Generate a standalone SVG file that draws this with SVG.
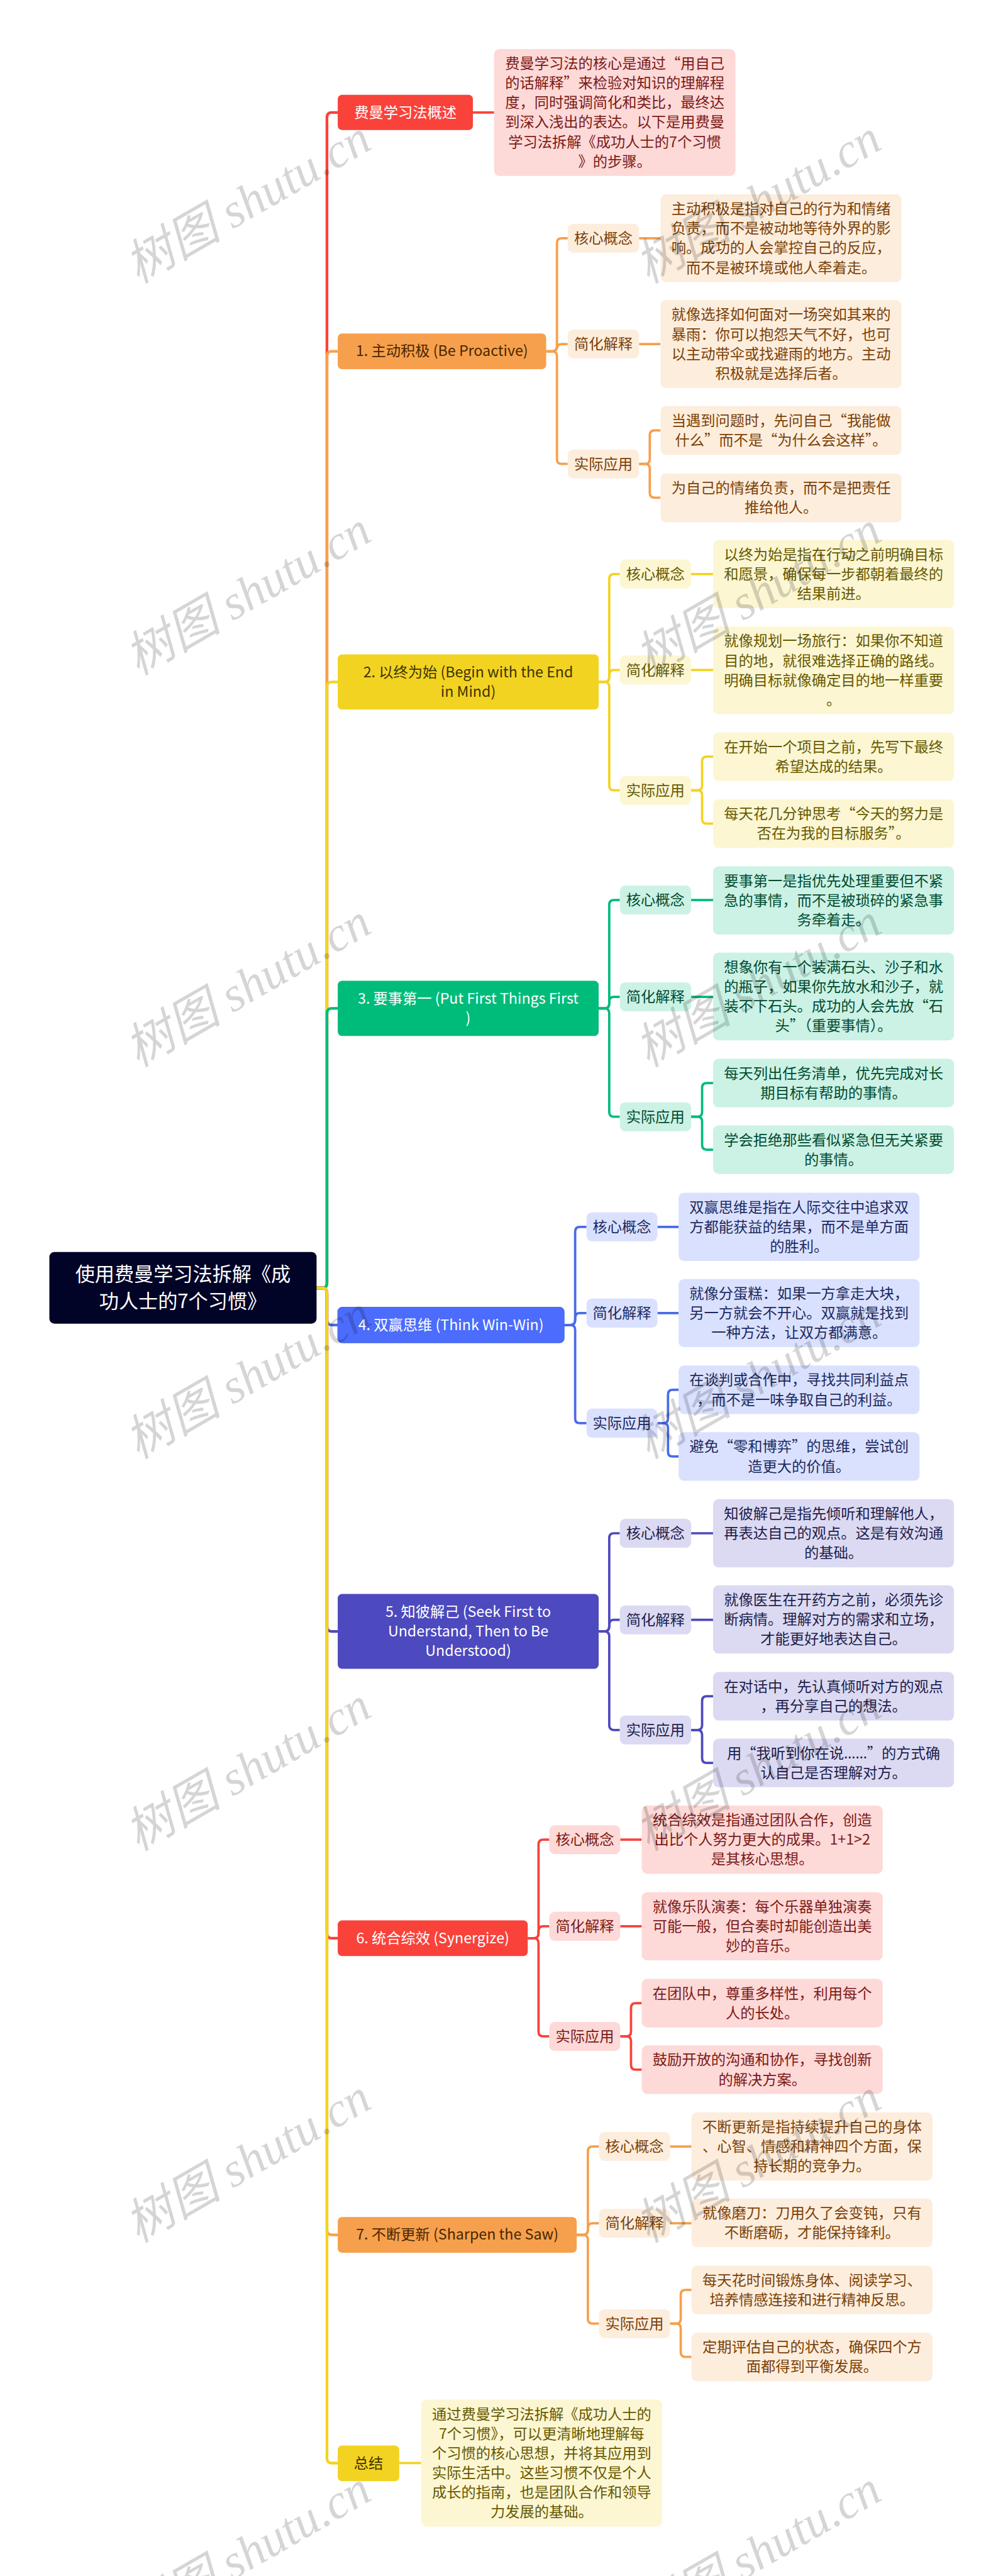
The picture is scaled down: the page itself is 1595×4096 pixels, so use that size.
<svg xmlns="http://www.w3.org/2000/svg" width="1595" height="4096" viewBox="0 0 1595 4096">
<style>
text{font-family:"Noto Sans CJK SC","Noto Sans",sans-serif;font-size:37.33px;text-anchor:middle}
.c{fill:none;stroke-width:6}
.t{stroke-width:7}
.cr{stroke:#F9423A}.co{stroke:#F6A04D}.cy{stroke:#F3D321}.cg{stroke:#00BC7B}.cb{stroke:#4A6AE8}.ci{stroke:#4D49BE}
.nr{fill:#F9423A}.no{fill:#F6A04D}.ny{fill:#F3D321}.ng{fill:#00BC7B}.nb{fill:#4B6CFC;stroke:#4464DF;stroke-width:1.5}.ni{fill:#4D49BE}
.lr{fill:#FDD9D8}.lo{fill:#FDEDDD}.ly{fill:#FCF6D3}.lg{fill:#CCF2E5}.lb{fill:#DAE1FF}.li{fill:#DBDAF2}
.tr{fill:#7C1A16}.to{fill:#7B4106}.ty{fill:#665900}.tg{fill:#004B31}.tb{fill:#1C2A60}.ti{fill:#1F1D4C}
.w{fill:#FFFFFF}.do{fill:#4A2700}.dy{fill:#3D3500}
.wm{font-family:"Liberation Serif","Noto Sans CJK SC",serif;font-style:italic;font-size:124px;fill:#000000;fill-opacity:.165;text-anchor:start}
.root{font-size:50px;fill:#FFFFFF}
.dots{font-family:"Noto Sans",sans-serif}
</style>
<g transform="scale(0.62305)">
<g id="connectors">
<path class="c t cr" d="M807 3287H822Q834.5 3287 834.5 3275V299Q834.5 287 847 287H862"/>
<path class="c t co" d="M807 3287H822Q834.5 3287 834.5 3275V909Q834.5 896.5 847 896.5H862"/>
<path class="c t cy" d="M807 3287H822Q834.5 3287 834.5 3275V1753Q834.5 1740.5 847 1740.5H862"/>
<path class="c t cg" d="M807 3287H822Q834.5 3287 834.5 3275V2586Q834.5 2573.5 847 2573.5H862"/>
<path class="c t cb" d="M807 3287H822Q834.5 3287 834.5 3299V3369Q834.5 3381.5 847 3381.5H862"/>
<path class="c t ci" d="M807 3287H822Q834.5 3287 834.5 3299V4151Q834.5 4163.5 847 4163.5H862"/>
<path class="c t cr" d="M807 3287H822Q834.5 3287 834.5 3299V4934Q834.5 4946.5 847 4946.5H862"/>
<path class="c t co" d="M807 3287H822Q834.5 3287 834.5 3299V5691Q834.5 5703.5 847 5703.5H862"/>
<path class="c t cy" d="M807 3287H822Q834.5 3287 834.5 3299V6274Q834.5 6286 847 6286H862"/>
<path class="c cr" d="M1207 287H1261"/>
<path class="c co" d="M1394 896.5H1409Q1421.5 896.5 1421.5 884V620Q1421.5 608 1434 608H1449"/>
<path class="c co" d="M1394 896.5H1409Q1421.5 896.5 1421.5 884V890Q1421.5 878 1434 878H1449"/>
<path class="c co" d="M1394 896.5H1409Q1421.5 896.5 1421.5 909V1172Q1421.5 1184 1434 1184H1449"/>
<path class="c co" d="M1631 608H1686M1631 878H1686"/>
<path class="c co" d="M1631 1184H1646Q1658.5 1184 1658.5 1172V1110.5Q1658.5 1098.5 1671 1098.5H1686"/>
<path class="c co" d="M1631 1184H1646Q1658.5 1184 1658.5 1196V1258Q1658.5 1270 1671 1270H1686"/>
<path class="c cy" d="M1528 1740.5H1543Q1555 1740.5 1555 1728V1477Q1555 1465 1567 1465H1582"/>
<path class="c cy" d="M1528 1740.5H1543Q1555 1740.5 1555 1728V1722Q1555 1710 1567 1710H1582"/>
<path class="c cy" d="M1528 1740.5H1543Q1555 1740.5 1555 1753V2005Q1555 2017 1567 2017H1582"/>
<path class="c cy" d="M1764 1465H1820M1764 1710H1820"/>
<path class="c cy" d="M1764 2017H1780Q1792 2017 1792 2005V1943Q1792 1931 1804 1931H1820"/>
<path class="c cy" d="M1764 2017H1780Q1792 2017 1792 2029V2090Q1792 2102 1804 2102H1820"/>
<path class="c cg" d="M1528 2573.5H1543Q1555 2573.5 1555 2561V2309Q1555 2297 1567 2297H1582"/>
<path class="c cg" d="M1528 2573.5H1543Q1555 2573.5 1555 2561V2556Q1555 2544 1567 2544H1582"/>
<path class="c cg" d="M1528 2573.5H1543Q1555 2573.5 1555 2586V2838Q1555 2850 1567 2850H1582"/>
<path class="c cg" d="M1764 2297H1820M1764 2544H1820"/>
<path class="c cg" d="M1764 2850H1780Q1792 2850 1792 2838V2776Q1792 2764 1804 2764H1820"/>
<path class="c cg" d="M1764 2850H1780Q1792 2850 1792 2862V2922Q1792 2934 1804 2934H1820"/>
<path class="c cb" d="M1440 3381.5H1456Q1468 3381.5 1468 3369V3143Q1468 3131 1480 3131H1497"/>
<path class="c cb" d="M1440 3381.5H1456Q1468 3381.5 1468 3369V3363Q1468 3351 1480 3351H1497"/>
<path class="c cb" d="M1440 3381.5H1456Q1468 3381.5 1468 3394V3620Q1468 3632 1480 3632H1497"/>
<path class="c cb" d="M1678 3131H1732M1678 3351H1732"/>
<path class="c cb" d="M1678 3632H1693Q1705 3632 1705 3620V3559Q1705 3547 1717 3547H1732"/>
<path class="c cb" d="M1678 3632H1693Q1705 3632 1705 3644V3705Q1705 3717 1717 3717H1732"/>
<path class="c ci" d="M1528 4163.5H1543Q1555 4163.5 1555 4151V3925Q1555 3913 1567 3913H1582"/>
<path class="c ci" d="M1528 4163.5H1543Q1555 4163.5 1555 4151V4146Q1555 4134 1567 4134H1582"/>
<path class="c ci" d="M1528 4163.5H1543Q1555 4163.5 1555 4176V4403Q1555 4415 1567 4415H1582"/>
<path class="c ci" d="M1764 3913H1820M1764 4134H1820"/>
<path class="c ci" d="M1764 4415H1780Q1792 4415 1792 4403V4341Q1792 4329 1804 4329H1820"/>
<path class="c ci" d="M1764 4415H1780Q1792 4415 1792 4427V4487Q1792 4499 1804 4499H1820"/>
<path class="c cr" d="M1347 4946.5H1362Q1374.5 4946.5 1374.5 4934V4707Q1374.5 4695 1387 4695H1402"/>
<path class="c cr" d="M1347 4946.5H1362Q1374.5 4946.5 1374.5 4934V4928Q1374.5 4916 1387 4916H1402"/>
<path class="c cr" d="M1347 4946.5H1362Q1374.5 4946.5 1374.5 4959V5185Q1374.5 5197 1387 5197H1402"/>
<path class="c cr" d="M1583 4695H1638M1583 4916H1638"/>
<path class="c cr" d="M1583 5197H1598Q1610.5 5197 1610.5 5185V5124Q1610.5 5112 1623 5112H1638"/>
<path class="c cr" d="M1583 5197H1598Q1610.5 5197 1610.5 5209V5270Q1610.5 5282 1623 5282H1638"/>
<path class="c co" d="M1472 5703.5H1488Q1500.5 5703.5 1500.5 5691V5490Q1500.5 5478 1513 5478H1529"/>
<path class="c co" d="M1472 5703.5H1488Q1500.5 5703.5 1500.5 5691V5686Q1500.5 5674 1513 5674H1529"/>
<path class="c co" d="M1472 5703.5H1488Q1500.5 5703.5 1500.5 5716V5918Q1500.5 5930 1513 5930H1529"/>
<path class="c co" d="M1710 5478H1765M1710 5674H1765"/>
<path class="c co" d="M1710 5930H1725Q1737.5 5930 1737.5 5918V5856Q1737.5 5844 1750 5844H1765"/>
<path class="c co" d="M1710 5930H1725Q1737.5 5930 1737.5 5942V6003Q1737.5 6015 1750 6015H1765"/>
<path class="c cy" d="M1019 6286H1075"/>
</g>
<g id="root"><rect x="126" y="3195" width="682" height="183" rx="13" fill="#010327"/><text class="root"><tspan x="467" y="3270">使用费曼学习法拆解《成</tspan><tspan x="467" y="3338">功人士的7个习惯》</tspan></text></g>

<g id="n0"><rect class="nr" x="862" y="242" width="345" height="90" rx="11"/><text class="w" x="1034.5" y="300">费曼学习法概述</text></g>
<g id="n0-a"><rect class="lr" x="1261" y="125" width="616" height="324" rx="14"/><text class="tr"><tspan x="1569" y="175">费曼学习法的核心是通过“用自己</tspan><tspan x="1569" y="225">的话解释”来检验对知识的理解程</tspan><tspan x="1569" y="275">度，同时强调简化和类比，最终达</tspan><tspan x="1569" y="325">到深入浅出的表达。以下是用费曼</tspan><tspan x="1569" y="375">学习法拆解《成功人士的7个习惯</tspan><tspan x="1569" y="425">》的步骤。</tspan></text></g>

<g id="n1"><rect class="no" x="862" y="851" width="532" height="91" rx="11"/><text class="do" x="1128" y="909">1. 主动积极 (Be Proactive)</text></g>
<g id="n1-l1"><rect class="lo" x="1449" y="571" width="182" height="74" rx="14"/><text class="to" x="1540" y="621">核心概念</text></g>
<g id="n1-l2"><rect class="lo" x="1449" y="841" width="182" height="74" rx="14"/><text class="to" x="1540" y="891">简化解释</text></g>
<g id="n1-l3"><rect class="lo" x="1449" y="1147" width="182" height="74" rx="14"/><text class="to" x="1540" y="1197">实际应用</text></g>
<g id="n1-b1"><rect class="lo" x="1686" y="496" width="615" height="224" rx="14"/><text class="to"><tspan x="1993.5" y="546">主动积极是指对自己的行为和情绪</tspan><tspan x="1993.5" y="596">负责，而不是被动地等待外界的影</tspan><tspan x="1993.5" y="646">响。成功的人会掌控自己的反应，</tspan><tspan x="1993.5" y="696">而不是被环境或他人牵着走。</tspan></text></g>
<g id="n1-b2"><rect class="lo" x="1686" y="766" width="615" height="224" rx="14"/><text class="to"><tspan x="1993.5" y="816">就像选择如何面对一场突如其来的</tspan><tspan x="1993.5" y="866">暴雨：你可以抱怨天气不好，也可</tspan><tspan x="1993.5" y="916">以主动带伞或找避雨的地方。主动</tspan><tspan x="1993.5" y="966">积极就是选择后者。</tspan></text></g>
<g id="n1-b3"><rect class="lo" x="1686" y="1036" width="615" height="125" rx="14"/><text class="to"><tspan x="1993.5" y="1086">当遇到问题时，先问自己“我能做</tspan><tspan x="1993.5" y="1136">什么”而不是“为什么会这样”。</tspan></text></g>
<g id="n1-b4"><rect class="lo" x="1686" y="1208" width="615" height="125" rx="14"/><text class="to"><tspan x="1993.5" y="1258">为自己的情绪负责，而不是把责任</tspan><tspan x="1993.5" y="1308">推给他人。</tspan></text></g>

<g id="n2"><rect class="ny" x="862" y="1670" width="666" height="141" rx="11"/><text class="dy"><tspan x="1195" y="1728">2. 以终为始 (Begin with the End</tspan><tspan x="1195" y="1778">in Mind)</tspan></text></g>
<g id="n2-l1"><rect class="ly" x="1582" y="1428" width="182" height="74" rx="14"/><text class="ty" x="1673" y="1478">核心概念</text></g>
<g id="n2-l2"><rect class="ly" x="1582" y="1673" width="182" height="74" rx="14"/><text class="ty" x="1673" y="1723">简化解释</text></g>
<g id="n2-l3"><rect class="ly" x="1582" y="1980" width="182" height="74" rx="14"/><text class="ty" x="1673" y="2030">实际应用</text></g>
<g id="n2-b1"><rect class="ly" x="1820" y="1378" width="615" height="174" rx="14"/><text class="ty"><tspan x="2127.5" y="1428">以终为始是指在行动之前明确目标</tspan><tspan x="2127.5" y="1478">和愿景，确保每一步都朝着最终的</tspan><tspan x="2127.5" y="1528">结果前进。</tspan></text></g>
<g id="n2-b2"><rect class="ly" x="1820" y="1599" width="615" height="224" rx="14"/><text class="ty"><tspan x="2127.5" y="1649">就像规划一场旅行：如果你不知道</tspan><tspan x="2127.5" y="1699">目的地，就很难选择正确的路线。</tspan><tspan x="2127.5" y="1749">明确目标就像确定目的地一样重要</tspan><tspan x="2127.5" y="1799">。</tspan></text></g>
<g id="n2-b3"><rect class="ly" x="1820" y="1869" width="615" height="124" rx="14"/><text class="ty"><tspan x="2127.5" y="1919">在开始一个项目之前，先写下最终</tspan><tspan x="2127.5" y="1969">希望达成的结果。</tspan></text></g>
<g id="n2-b4"><rect class="ly" x="1820" y="2040" width="615" height="124" rx="14"/><text class="ty"><tspan x="2127.5" y="2090">每天花几分钟思考“今天的努力是</tspan><tspan x="2127.5" y="2140">否在为我的目标服务”。</tspan></text></g>

<g id="n3"><rect class="ng" x="862" y="2503" width="666" height="141" rx="11"/><text class="w"><tspan x="1195" y="2561">3. 要事第一 (Put First Things First</tspan><tspan x="1195" y="2611">)</tspan></text></g>
<g id="n3-l1"><rect class="lg" x="1582" y="2260" width="182" height="74" rx="14"/><text class="tg" x="1673" y="2310">核心概念</text></g>
<g id="n3-l2"><rect class="lg" x="1582" y="2507" width="182" height="74" rx="14"/><text class="tg" x="1673" y="2557">简化解释</text></g>
<g id="n3-l3"><rect class="lg" x="1582" y="2813" width="182" height="74" rx="14"/><text class="tg" x="1673" y="2863">实际应用</text></g>
<g id="n3-b1"><rect class="lg" x="1820" y="2211" width="615" height="174" rx="14"/><text class="tg"><tspan x="2127.5" y="2261">要事第一是指优先处理重要但不紧</tspan><tspan x="2127.5" y="2311">急的事情，而不是被琐碎的紧急事</tspan><tspan x="2127.5" y="2361">务牵着走。</tspan></text></g>
<g id="n3-b2"><rect class="lg" x="1820" y="2431" width="615" height="224" rx="14"/><text class="tg"><tspan x="2127.5" y="2481">想象你有一个装满石头、沙子和水</tspan><tspan x="2127.5" y="2531">的瓶子，如果你先放水和沙子，就</tspan><tspan x="2127.5" y="2581">装不下石头。成功的人会先放“石</tspan><tspan x="2127.5" y="2631">头”（重要事情）。</tspan></text></g>
<g id="n3-b3"><rect class="lg" x="1820" y="2702" width="615" height="124" rx="14"/><text class="tg"><tspan x="2127.5" y="2752">每天列出任务清单，优先完成对长</tspan><tspan x="2127.5" y="2802">期目标有帮助的事情。</tspan></text></g>
<g id="n3-b4"><rect class="lg" x="1820" y="2872" width="615" height="124" rx="14"/><text class="tg"><tspan x="2127.5" y="2922">学会拒绝那些看似紧急但无关紧要</tspan><tspan x="2127.5" y="2972">的事情。</tspan></text></g>

<g id="n4"><rect class="nb" x="862" y="3336" width="578" height="91" rx="11"/><text class="w" x="1151" y="3394">4. 双赢思维 (Think Win-Win)</text></g>
<g id="n4-l1"><rect class="lb" x="1497" y="3094" width="181" height="74" rx="14"/><text class="tb" x="1587.5" y="3144">核心概念</text></g>
<g id="n4-l2"><rect class="lb" x="1497" y="3314" width="181" height="74" rx="14"/><text class="tb" x="1587.5" y="3364">简化解释</text></g>
<g id="n4-l3"><rect class="lb" x="1497" y="3595" width="181" height="74" rx="14"/><text class="tb" x="1587.5" y="3645">实际应用</text></g>
<g id="n4-b1"><rect class="lb" x="1732" y="3044" width="615" height="174" rx="14"/><text class="tb"><tspan x="2039.5" y="3094">双赢思维是指在人际交往中追求双</tspan><tspan x="2039.5" y="3144">方都能获益的结果，而不是单方面</tspan><tspan x="2039.5" y="3194">的胜利。</tspan></text></g>
<g id="n4-b2"><rect class="lb" x="1732" y="3264" width="615" height="174" rx="14"/><text class="tb"><tspan x="2039.5" y="3314">就像分蛋糕：如果一方拿走大块，</tspan><tspan x="2039.5" y="3364">另一方就会不开心。双赢就是找到</tspan><tspan x="2039.5" y="3414">一种方法，让双方都满意。</tspan></text></g>
<g id="n4-b3"><rect class="lb" x="1732" y="3485" width="615" height="124" rx="14"/><text class="tb"><tspan x="2039.5" y="3535">在谈判或合作中，寻找共同利益点</tspan><tspan x="2039.5" y="3585">，而不是一味争取自己的利益。</tspan></text></g>
<g id="n4-b4"><rect class="lb" x="1732" y="3655" width="615" height="124" rx="14"/><text class="tb"><tspan x="2039.5" y="3705">避免“零和博弈”的思维，尝试创</tspan><tspan x="2039.5" y="3755">造更大的价值。</tspan></text></g>

<g id="n5"><rect class="ni" x="862" y="4068" width="666" height="191" rx="11"/><text class="w"><tspan x="1195" y="4126">5. 知彼解己 (Seek First to</tspan><tspan x="1195" y="4176">Understand, Then to Be</tspan><tspan x="1195" y="4226">Understood)</tspan></text></g>
<g id="n5-l1"><rect class="li" x="1582" y="3876" width="182" height="74" rx="14"/><text class="ti" x="1673" y="3926">核心概念</text></g>
<g id="n5-l2"><rect class="li" x="1582" y="4097" width="182" height="74" rx="14"/><text class="ti" x="1673" y="4147">简化解释</text></g>
<g id="n5-l3"><rect class="li" x="1582" y="4378" width="182" height="74" rx="14"/><text class="ti" x="1673" y="4428">实际应用</text></g>
<g id="n5-b1"><rect class="li" x="1820" y="3826" width="615" height="174" rx="14"/><text class="ti"><tspan x="2127.5" y="3876">知彼解己是指先倾听和理解他人，</tspan><tspan x="2127.5" y="3926">再表达自己的观点。这是有效沟通</tspan><tspan x="2127.5" y="3976">的基础。</tspan></text></g>
<g id="n5-b2"><rect class="li" x="1820" y="4046" width="615" height="174" rx="14"/><text class="ti"><tspan x="2127.5" y="4096">就像医生在开药方之前，必须先诊</tspan><tspan x="2127.5" y="4146">断病情。理解对方的需求和立场，</tspan><tspan x="2127.5" y="4196">才能更好地表达自己。</tspan></text></g>
<g id="n5-b3"><rect class="li" x="1820" y="4267" width="615" height="124" rx="14"/><text class="ti"><tspan x="2127.5" y="4317">在对话中，先认真倾听对方的观点</tspan><tspan x="2127.5" y="4367">，再分享自己的想法。</tspan></text></g>
<g id="n5-b4"><rect class="li" x="1820" y="4437" width="615" height="124" rx="14"/><text class="ti"><tspan x="2127.5" y="4487">用“我听到你在说<tspan class="dots">……</tspan>”的方式确</tspan><tspan x="2127.5" y="4537">认自己是否理解对方。</tspan></text></g>

<g id="n6"><rect class="nr" x="862" y="4901" width="485" height="91" rx="11"/><text class="w" x="1104.5" y="4959">6. 统合综效 (Synergize)</text></g>
<g id="n6-l1"><rect class="lr" x="1402" y="4658" width="181" height="74" rx="14"/><text class="tr" x="1492.5" y="4708">核心概念</text></g>
<g id="n6-l2"><rect class="lr" x="1402" y="4879" width="181" height="74" rx="14"/><text class="tr" x="1492.5" y="4929">简化解释</text></g>
<g id="n6-l3"><rect class="lr" x="1402" y="5160" width="181" height="74" rx="14"/><text class="tr" x="1492.5" y="5210">实际应用</text></g>
<g id="n6-b1"><rect class="lr" x="1638" y="4608" width="615" height="174" rx="14"/><text class="tr"><tspan x="1945.5" y="4658">统合综效是指通过团队合作，创造</tspan><tspan x="1945.5" y="4708">出比个人努力更大的成果。1+1&gt;2</tspan><tspan x="1945.5" y="4758">是其核心思想。</tspan></text></g>
<g id="n6-b2"><rect class="lr" x="1638" y="4829" width="615" height="174" rx="14"/><text class="tr"><tspan x="1945.5" y="4879">就像乐队演奏：每个乐器单独演奏</tspan><tspan x="1945.5" y="4929">可能一般，但合奏时却能创造出美</tspan><tspan x="1945.5" y="4979">妙的音乐。</tspan></text></g>
<g id="n6-b3"><rect class="lr" x="1638" y="5050" width="615" height="124" rx="14"/><text class="tr"><tspan x="1945.5" y="5100">在团队中，尊重多样性，利用每个</tspan><tspan x="1945.5" y="5150">人的长处。</tspan></text></g>
<g id="n6-b4"><rect class="lr" x="1638" y="5220" width="615" height="124" rx="14"/><text class="tr"><tspan x="1945.5" y="5270">鼓励开放的沟通和协作，寻找创新</tspan><tspan x="1945.5" y="5320">的解决方案。</tspan></text></g>

<g id="n7"><rect class="no" x="862" y="5658" width="610" height="91" rx="11"/><text class="do" x="1167" y="5716">7. 不断更新 (Sharpen the Saw)</text></g>
<g id="n7-l1"><rect class="lo" x="1529" y="5441" width="181" height="74" rx="14"/><text class="to" x="1619.5" y="5491">核心概念</text></g>
<g id="n7-l2"><rect class="lo" x="1529" y="5637" width="181" height="74" rx="14"/><text class="to" x="1619.5" y="5687">简化解释</text></g>
<g id="n7-l3"><rect class="lo" x="1529" y="5893" width="181" height="74" rx="14"/><text class="to" x="1619.5" y="5943">实际应用</text></g>
<g id="n7-b1"><rect class="lo" x="1765" y="5391" width="615" height="174" rx="14"/><text class="to"><tspan x="2072.5" y="5441">不断更新是指持续提升自己的身体</tspan><tspan x="2072.5" y="5491">、心智、情感和精神四个方面，保</tspan><tspan x="2072.5" y="5541">持长期的竞争力。</tspan></text></g>
<g id="n7-b2"><rect class="lo" x="1765" y="5611" width="615" height="124" rx="14"/><text class="to"><tspan x="2072.5" y="5661">就像磨刀：刀用久了会变钝，只有</tspan><tspan x="2072.5" y="5711">不断磨砺，才能保持锋利。</tspan></text></g>
<g id="n7-b3"><rect class="lo" x="1765" y="5782" width="615" height="124" rx="14"/><text class="to"><tspan x="2072.5" y="5832">每天花时间锻炼身体、阅读学习、</tspan><tspan x="2072.5" y="5882">培养情感连接和进行精神反思。</tspan></text></g>
<g id="n7-b4"><rect class="lo" x="1765" y="5953" width="615" height="124" rx="14"/><text class="to"><tspan x="2072.5" y="6003">定期评估自己的状态，确保四个方</tspan><tspan x="2072.5" y="6053">面都得到平衡发展。</tspan></text></g>

<g id="n8"><rect class="ny" x="862" y="6241" width="157" height="91" rx="11"/><text class="dy" x="940.5" y="6299">总结</text></g>
<g id="n8-a"><rect class="ly" x="1075" y="6124" width="615" height="324" rx="14"/><text class="ty"><tspan x="1382.5" y="6174">通过费曼学习法拆解《成功人士的</tspan><tspan x="1382.5" y="6224">7个习惯》，可以更清晰地理解每</tspan><tspan x="1382.5" y="6274">个习惯的核心思想，并将其应用到</tspan><tspan x="1382.5" y="6324">实际生活中。这些习惯不仅是个人</tspan><tspan x="1382.5" y="6374">成长的指南，也是团队合作和领导</tspan><tspan x="1382.5" y="6424">力发展的基础。</tspan></text></g>

<g id="watermark">
<text class="wm" transform="translate(352 725) rotate(-30)">树图 shutu.cn</text>
<text class="wm" transform="translate(1654 725) rotate(-30)">树图 shutu.cn</text>
<text class="wm" transform="translate(352 1725) rotate(-30)">树图 shutu.cn</text>
<text class="wm" transform="translate(1654 1725) rotate(-30)">树图 shutu.cn</text>
<text class="wm" transform="translate(352 2725) rotate(-30)">树图 shutu.cn</text>
<text class="wm" transform="translate(1654 2725) rotate(-30)">树图 shutu.cn</text>
<text class="wm" transform="translate(352 3725) rotate(-30)">树图 shutu.cn</text>
<text class="wm" transform="translate(1654 3725) rotate(-30)">树图 shutu.cn</text>
<text class="wm" transform="translate(352 4725) rotate(-30)">树图 shutu.cn</text>
<text class="wm" transform="translate(1654 4725) rotate(-30)">树图 shutu.cn</text>
<text class="wm" transform="translate(352 5725) rotate(-30)">树图 shutu.cn</text>
<text class="wm" transform="translate(1654 5725) rotate(-30)">树图 shutu.cn</text>
<text class="wm" transform="translate(352 6725) rotate(-30)">树图 shutu.cn</text>
<text class="wm" transform="translate(1654 6725) rotate(-30)">树图 shutu.cn</text>
</g>
</g>
</svg>
